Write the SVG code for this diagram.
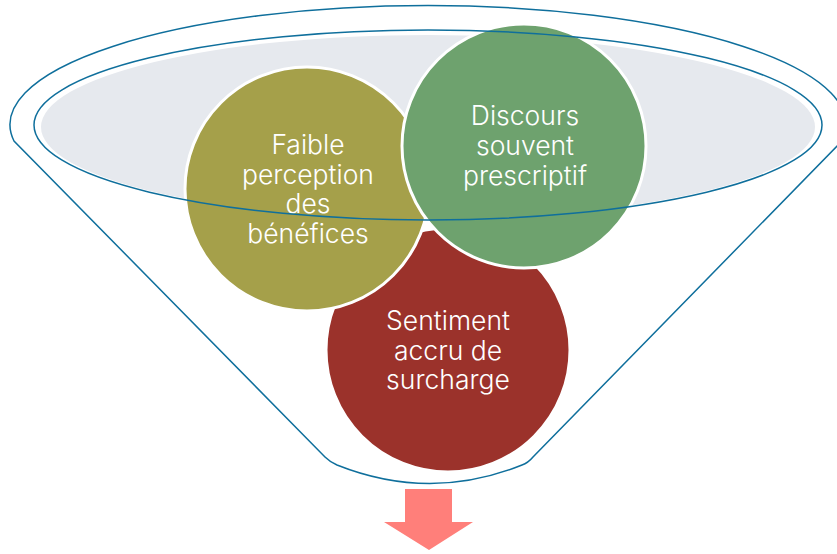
<svg xmlns="http://www.w3.org/2000/svg" width="837" height="554" viewBox="0 0 837 554">
<style>
.line{fill:none;stroke:#0f6f9c;stroke-width:1.5}
.c{stroke:#ffffff;stroke-width:3}
.t{font-family:Inter,"Liberation Sans",sans-serif;font-size:26.5px;font-weight:300;fill:#ffffff;text-anchor:middle}
</style>
<rect width="837" height="554" fill="#ffffff"/>
<g id="funnel">
<ellipse cx="428" cy="127" rx="387" ry="92" fill="#e6e9ee"/>
<path class="line" d="M14,141 A418,119 0 1 1 842,141 L533,457 Q528,463 522,465 Q430,502 337,465 Q330,462 325,457 Z"/>
</g>
<g id="node-surcharge">
<circle class="c" cx="448" cy="350" r="122" fill="#9b322b"/>
<text class="t" x="448" y="330">Sentiment</text>
<text class="t" x="448" y="360">accru de</text>
<text class="t" x="448" y="389">surcharge</text>
</g>
<g id="node-faible">
<circle class="c" cx="307" cy="189" r="122" fill="#a5a04a"/>
<text class="t" x="308" y="154">Faible</text>
<text class="t" x="308" y="184">perception</text>
<text class="t" x="308" y="213">des</text>
<text class="t" x="308" y="243">bénéfices</text>
</g>
<g id="node-discours">
<circle class="c" cx="524" cy="146" r="122" fill="#6ea26e"/>
<text class="t" x="525" y="125">Discours</text>
<text class="t" x="525" y="155">souvent</text>
<text class="t" x="525" y="185">prescriptif</text>
</g>
<g id="connectors">
<ellipse class="line" cx="428" cy="125" rx="394" ry="95"/>
<polygon points="405,489 452,489 452,522 473,522 429,550 384,522 405,522" fill="#ff7f7a"/>
</g>
</svg>
